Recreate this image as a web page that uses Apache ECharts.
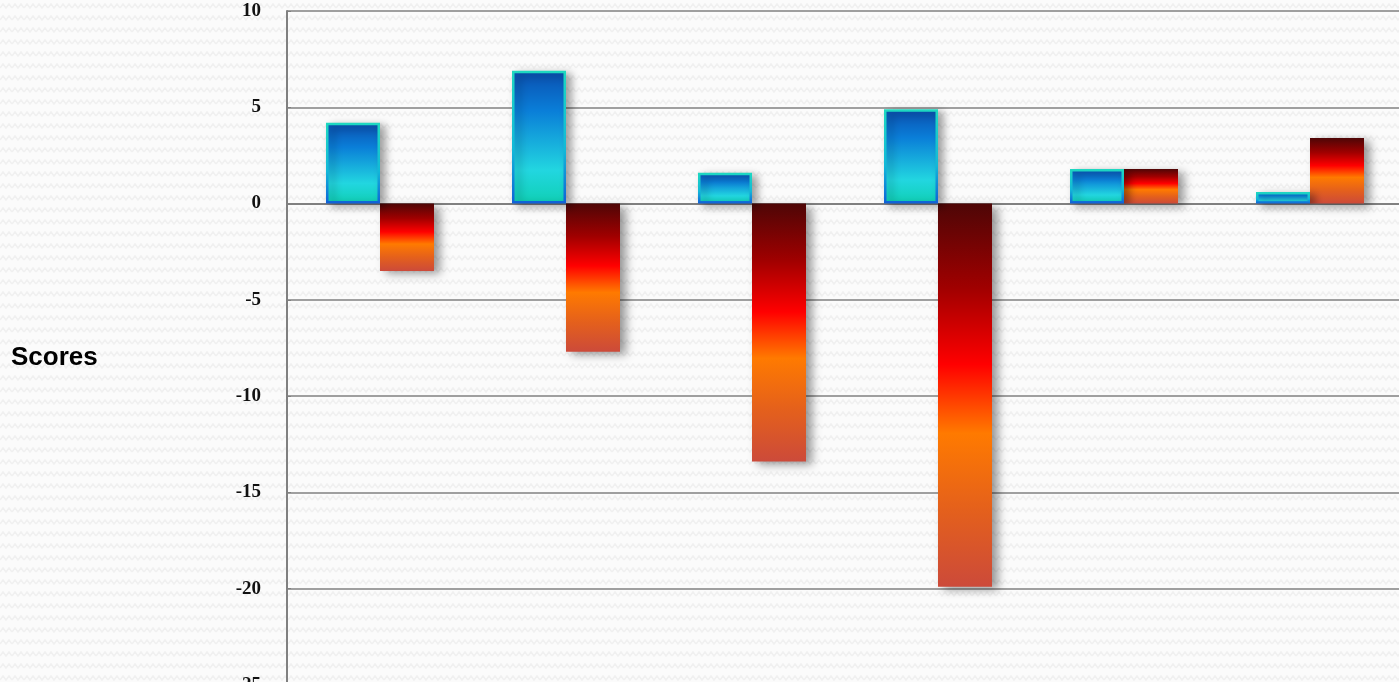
<!DOCTYPE html>
<html>
<head>
<meta charset="utf-8">
<script src="https://cdn.jsdelivr.net/npm/echarts@6/dist/echarts.min.js"></script>
<style>
html,body{margin:0;padding:0;width:1399px;height:682px;overflow:hidden;}
body{
  background-color:#fbfbfb;
  background-image:url("data:image/svg+xml;utf8,<svg xmlns='http://www.w3.org/2000/svg' width='12' height='12'><polyline points='0,8 3,4 6,8 9,4 12,8' fill='none' stroke='%23f0f0f0' stroke-width='1.5'/></svg>");
}
#chart{width:1399px;height:682px;}
</style>
</head>
<body>
<div id="chart"></div>
<script>
const categories = ['1', '2', '3', '4', '5', '6'];
const seriesA = [4.2, 6.9, 1.6, 4.9, 1.8, 0.6];
const seriesB = [-3.5, -7.7, -13.4, -19.9, 1.8, 3.4];
const yTicks = { min: -25, max: 10, interval: 5 };
const axisTitle = 'Scores';

const chart = echarts.init(document.getElementById('chart'), null, { renderer: 'canvas' });

const blueFill = new echarts.graphic.LinearGradient(0, 0, 0, 1, [
  { offset: 0, color: '#0a4fb0' },
  { offset: 0.3, color: '#0a7ed8' },
  { offset: 0.75, color: '#22d6e0' },
  { offset: 1, color: '#0fd0b4' }
]);
const blueBorder = new echarts.graphic.LinearGradient(0, 0, 0, 1, [
  { offset: 0, color: '#1ed8c0' },
  { offset: 0.6, color: '#12b8d8' },
  { offset: 1, color: '#1060d8' }
]);
const redFill = new echarts.graphic.LinearGradient(0, 0, 0, 1, [
  { offset: 0, color: '#4e0606' },
  { offset: 0.22, color: '#a00000' },
  { offset: 0.42, color: '#ff0000' },
  { offset: 0.6, color: '#ff7a00' },
  { offset: 0.8, color: '#e4601c' },
  { offset: 1, color: '#cc4a3a' }
]);

chart.setOption({
  backgroundColor: 'transparent',
  animation: false,
  title: {
    text: axisTitle,
    left: 6,
    top: 340,
    textStyle: { fontFamily: 'Liberation Sans, Arial', fontWeight: 'bold', fontSize: 26, color: '#000' }
  },
  grid: { left: 287, right: -4, top: 11, height: 674, containLabel: false, outerBoundsMode: 'none' },
  xAxis: {
    type: 'category',
    data: categories,
    axisLine: { onZero: true, lineStyle: { color: '#808080', width: 2 } },
    axisTick: { show: false },
    axisLabel: { show: false },
    splitLine: { show: false }
  },
  yAxis: {
    type: 'value',
    min: yTicks.min,
    max: yTicks.max,
    interval: yTicks.interval,
    axisLine: { show: true, lineStyle: { color: '#808080', width: 2 } },
    axisTick: { show: true, inside: true, length: 4, lineStyle: { color: '#808080', width: 1 } },
    axisLabel: {
      margin: 26,
      padding: [6, 0, 0, 0],
      fontFamily: 'Liberation Serif, DejaVu Serif, serif',
      fontWeight: 'bold',
      fontSize: 19,
      color: '#111'
    },
    splitLine: { show: true, lineStyle: { color: '#808080', width: 1.5 } }
  },
  series: [
    {
      type: 'bar',
      data: seriesA,
      barWidth: 54,
      barGap: '0%',
      barCategoryGap: '42%',
      itemStyle: {
        color: blueFill,
        borderColor: blueBorder,
        borderWidth: 2.5,
        shadowColor: 'rgba(0,0,0,0.35)',
        shadowBlur: 8,
        shadowOffsetX: 5,
        shadowOffsetY: 3
      },
      z: 3
    },
    {
      type: 'bar',
      data: seriesB,
      barWidth: 54,
      barGap: '0%',
      itemStyle: {
        color: redFill,
        shadowColor: 'rgba(0,0,0,0.4)',
        shadowBlur: 9,
        shadowOffsetX: 6,
        shadowOffsetY: 3
      },
      z: 2
    }
  ]
});
</script>
</body>
</html>
